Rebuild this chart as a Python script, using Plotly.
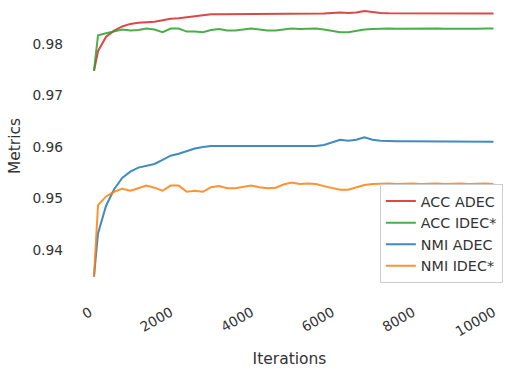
import plotly.graph_objects as go

iterations = [100, 200, 400, 600, 800, 1000, 1200, 1400, 1600, 1800,
              2000, 2200, 2400, 2600, 2800, 3000, 3200, 3400, 3600, 3800,
              4000, 4200, 4400, 4600, 4800, 5000, 5200, 5400, 5600, 5800,
              6000, 6200, 6400, 6600, 6800, 7000, 7200, 7400, 7600, 7800,
              8000, 8200, 8400, 8600, 8800, 9000, 9200, 9400, 9600, 9800,
              10000]

acc_adec = [0.9748, 0.9786, 0.9814, 0.9826, 0.9834, 0.9839, 0.9841, 0.9842, 0.9843, 0.9846,
            0.9849, 0.9850, 0.9852, 0.9855, 0.9857, 0.98576, 0.98576, 0.98576, 0.98576, 0.98576,
            0.98576, 0.98576, 0.98576, 0.98576, 0.98576, 0.98576, 0.98576, 0.98576, 0.98576, 0.9859,
            0.9860, 0.9861, 0.9860, 0.9861, 0.9864, 0.9862, 0.9860, 0.98596, 0.98596, 0.98596,
            0.98596, 0.98596, 0.98596, 0.98596, 0.98596, 0.98596, 0.98596, 0.98596, 0.98596, 0.98596,
            0.9859]

acc_idec = [0.9748, 0.9817, 0.9821, 0.9825, 0.9828, 0.9826, 0.9827, 0.9830, 0.9828, 0.9823,
            0.9830, 0.9830, 0.9824, 0.9824, 0.9823, 0.9827, 0.9829, 0.9826, 0.9826, 0.9828,
            0.9830, 0.9828, 0.9826, 0.9826, 0.9828, 0.9830, 0.9829, 0.9830, 0.9830, 0.9828,
            0.9826, 0.9823, 0.9823, 0.9826, 0.9828, 0.9829, 0.9830, 0.9830, 0.98298, 0.9830,
            0.98304, 0.9830, 0.98298, 0.9830, 0.98296, 0.9830, 0.98298, 0.98304, 0.98298, 0.9830,
            0.98302]

nmi_adec = [0.9348, 0.9432, 0.9486, 0.9518, 0.9540, 0.9552, 0.9560, 0.9563, 0.9567, 0.9575,
            0.9583, 0.9587, 0.9592, 0.9597, 0.9600, 0.9602, 0.9602, 0.9602, 0.9602, 0.9602,
            0.9602, 0.9602, 0.9602, 0.9602, 0.9602, 0.9602, 0.9602, 0.9602, 0.9602, 0.9604,
            0.9609, 0.9614, 0.9612, 0.9614, 0.9619, 0.9614, 0.9612, 0.9611, 0.9611, 0.9611,
            0.9611, 0.9611, 0.9611, 0.9611, 0.9611, 0.9611, 0.9611, 0.9611, 0.9611, 0.9611,
            0.9610]

nmi_idec = [0.9348, 0.9487, 0.9504, 0.9513, 0.9519, 0.9515, 0.9520, 0.9525, 0.9521, 0.9515,
            0.9525, 0.9525, 0.9513, 0.9515, 0.9513, 0.9522, 0.9524, 0.9520, 0.9520, 0.9522,
            0.9525, 0.9522, 0.9520, 0.9521, 0.9527, 0.9531, 0.9528, 0.9529, 0.9528, 0.9524,
            0.9520, 0.9517, 0.9517, 0.9522, 0.9526, 0.9528, 0.9529, 0.9529, 0.9528, 0.9529,
            0.9529, 0.9528, 0.9529, 0.9529, 0.9528, 0.9529, 0.9529, 0.9528, 0.9529, 0.9529,
            0.9528]

series = [
    ("ACC ADEC", acc_adec, "rgba(214,39,40,0.85)"),
    ("ACC IDEC*", acc_idec, "rgba(44,160,44,0.85)"),
    ("NMI ADEC", nmi_adec, "rgba(31,119,180,0.85)"),
    ("NMI IDEC*", nmi_idec, "rgba(255,127,14,0.85)"),
]

x_ticks = [0, 2000, 4000, 6000, 8000, 10000]
y_ticks = [0.94, 0.95, 0.96, 0.97, 0.98]

text_color = "#333333"
font_family = "DejaVu Sans"

fig = go.Figure()
for name, values, color in series:
    fig.add_trace(go.Scatter(
        x=iterations, y=values, mode="lines", name=name,
        line=dict(color=color, width=2),
    ))

fig.update_layout(
    width=505, height=375,
    margin=dict(l=74, r=0, t=0, b=83),
    paper_bgcolor="white", plot_bgcolor="white",
    font=dict(family=font_family, size=13.75, color=text_color),
    showlegend=True,
    legend=dict(
        x=0.995, y=0.03, xanchor="right", yanchor="bottom",
        bgcolor="rgba(255,255,255,0.8)", bordercolor="#cccccc", borderwidth=1,
        font=dict(size=14.3, color=text_color),
        tracegroupgap=0, itemwidth=30,
    ),
    xaxis=dict(
        range=[-395, 10285],
        tickvals=x_ticks, ticktext=[str(v) for v in x_ticks],
        tickangle=-30, showgrid=False, zeroline=False, showline=False,
        ticks="", ticklabelstandoff=9,
        title=dict(text="Iterations", font=dict(size=15.5), standoff=14),
    ),
    yaxis=dict(
        range=[0.93184, 0.98854],
        tickvals=y_ticks, ticktext=[f"{v:.2f}" for v in y_ticks],
        showgrid=False, zeroline=False, showline=False,
        ticks="", ticklabelstandoff=10,
        title=dict(text="Metrics", font=dict(size=15.5), standoff=7),
    ),
)

fig.write_html("out.html")
